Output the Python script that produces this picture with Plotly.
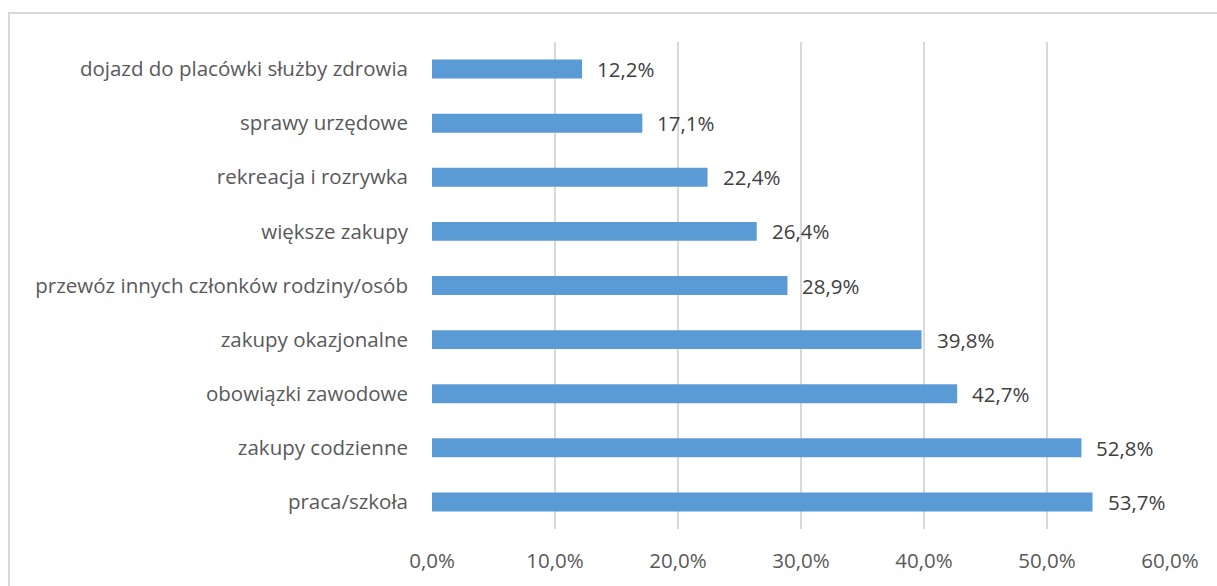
import plotly.graph_objects as go

categories = [
    "praca/szkoła",
    "zakupy codzienne",
    "obowiązki zawodowe",
    "zakupy okazjonalne",
    "przewóz innych członków rodziny/osób",
    "większe zakupy",
    "rekreacja i rozrywka",
    "sprawy urzędowe",
    "dojazd do placówki służby zdrowia",
]
values = [53.7, 52.8, 42.7, 39.8, 28.9, 26.4, 22.4, 17.1, 12.2]
tick_values = [0, 10, 20, 30, 40, 50, 60]
tick_labels = ["0,0%", "10,0%", "20,0%", "30,0%", "40,0%", "50,0%", "60,0%"]

labels = [f"{v:.1f}%".replace(".", ",") for v in values]
FONT = "Open Sans"
FS = 20.5

fig = go.Figure(go.Bar(
    x=values, y=categories, orientation="h",
    marker=dict(color="#5B9BD5", line=dict(width=0)),
    width=0.35,
))

for v, c, t in zip(values, categories, labels):
    fig.add_annotation(
        x=v, y=c, xref="x", yref="y", text=t, showarrow=False,
        xanchor="left", yanchor="middle", xshift=13,
        font=dict(family=FONT, size=FS, color="#404040"),
    )

fig.update_layout(
    width=1217, height=586,
    margin=dict(l=432, r=47, t=42, b=55),
    paper_bgcolor="white", plot_bgcolor="white",
    showlegend=False,
    font=dict(family=FONT, size=FS, color="#595959"),
    xaxis=dict(
        range=[0, 60], tickmode="array", tickvals=tick_values, ticktext=tick_labels,
        showgrid=True, gridcolor="#d9d9d9", gridwidth=2, zeroline=False,
        showline=False, ticks="", ticklabelstandoff=17,
        tickfont=dict(family=FONT, size=FS, color="#595959"),
    ),
    yaxis=dict(
        showgrid=False, zeroline=False, showline=False, ticks="",
        ticklabelstandoff=23, range=[-0.5, 8.5],
        tickfont=dict(family=FONT, size=FS, color="#595959"),
    ),
    shapes=[dict(
        type="rect", xref="paper", yref="paper",
        x0=-0.5732, x1=1.07, y0=-0.13, y1=1.0593,
        line=dict(color="#d9d9d9", width=2), layer="below",
    )],
)

fig.write_html("out.html")
